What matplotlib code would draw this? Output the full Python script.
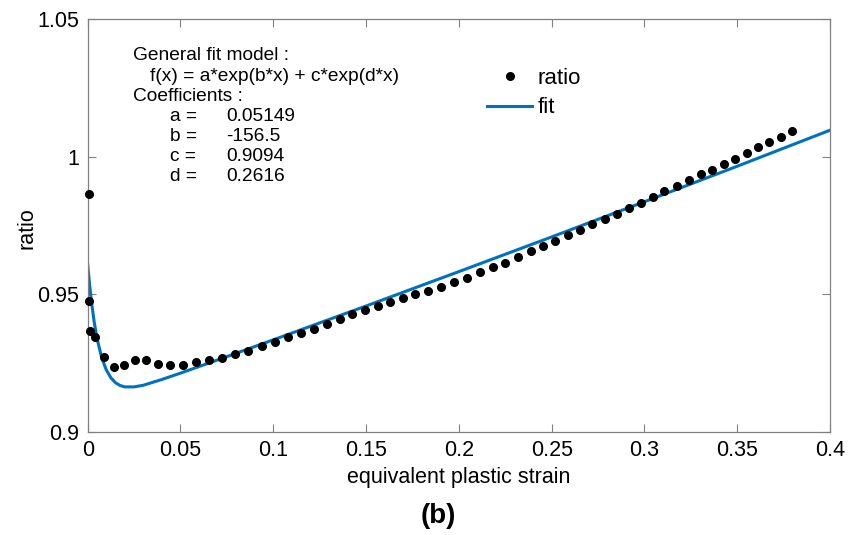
import numpy as np
from matplotlib import pyplot as plt
from matplotlib.ticker import FormatStrFormatter

plt.rcParams['font.family'] = ['Liberation Sans', 'DejaVu Sans']

# measured ratio points
strain = [0.0005, 0.0005, 0.0015, 0.0042, 0.0087, 0.0140, 0.0198, 0.0257, 0.0314, 0.0378,
          0.0445, 0.0513, 0.0585, 0.0655, 0.0726, 0.0796, 0.0866, 0.0938, 0.1008,
          0.1081, 0.1149, 0.1217, 0.1287, 0.1357, 0.1425, 0.1493, 0.1562, 0.1631,
          0.1699, 0.1766, 0.1836, 0.1906, 0.1974, 0.2043, 0.2112, 0.2182, 0.2250,
          0.2318, 0.2388, 0.2452, 0.2520, 0.2588, 0.2653, 0.2719, 0.2787, 0.2854,
          0.2916, 0.2983, 0.3046, 0.3108, 0.3173, 0.3239, 0.3304, 0.3363, 0.3429,
          0.3490, 0.3551, 0.3612, 0.3672, 0.3735, 0.3796]
ratio = [0.9864, 0.9476, 0.9366, 0.9344, 0.9272, 0.9238, 0.9244, 0.9262, 0.9260, 0.9248,
         0.9243, 0.9244, 0.9254, 0.9260, 0.9269, 0.9283, 0.9296, 0.9311, 0.9327,
         0.9344, 0.9359, 0.9376, 0.9394, 0.9412, 0.9428, 0.9444, 0.9458, 0.9472,
         0.9487, 0.9502, 0.9514, 0.9528, 0.9544, 0.9561, 0.9580, 0.9598, 0.9616,
         0.9635, 0.9657, 0.9676, 0.9696, 0.9717, 0.9736, 0.9755, 0.9775, 0.9793,
         0.9814, 0.9834, 0.9853, 0.9875, 0.9895, 0.9916, 0.9936, 0.9954, 0.9974,
         0.9994, 1.0014, 1.0035, 1.0053, 1.0074, 1.0095]

# fitted curve
fit_x = [0, 0.001, 0.002, 0.0035, 0.005, 0.0075, 0.01, 0.0125, 0.015, 0.0175, 0.02,
         0.025, 0.03, 0.04, 0.05, 0.075, 0.1, 0.15, 0.2, 0.25, 0.3, 0.35, 0.4]
fit_y = [0.9609, 0.9537, 0.9475, 0.9400, 0.9341, 0.9271, 0.9226, 0.9197, 0.9179, 0.9169,
         0.9164, 0.9164, 0.9170, 0.9191, 0.9214, 0.9274, 0.9335, 0.9458, 0.9583,
         0.9709, 0.9837, 0.9966, 1.0097]

coef_names = ['a =', 'b =', 'c =', 'd =']
coef_vals = ['0.05149', '-156.5', '0.9094', '0.2616']

fig = plt.figure(figsize=(8.58, 5.35), dpi=100)
ax = fig.add_axes([0.1022, 0.1925, 0.8652, 0.7714])

ax.plot(strain, ratio, 'o', color='black', markersize=5.5, label='ratio',
        clip_on=False, zorder=3)
ax.plot(fit_x, fit_y, '-', color='#0072BD', linewidth=2.2, label='fit')

ax.set_xlim(0, 0.4)
ax.set_ylim(0.9, 1.05)
ax.set_xticks(np.arange(0, 0.401, 0.05))
ax.set_yticks([0.9, 0.95, 1.0, 1.05])
ax.xaxis.set_major_formatter(FormatStrFormatter('%g'))
ax.yaxis.set_major_formatter(FormatStrFormatter('%g'))
ax.tick_params(direction='in', top=True, right=True, length=6, width=0.8,
               color='#808080', labelsize=15.5, pad=6)
for s in ax.spines.values():
    s.set_color('#808080')
    s.set_linewidth(0.9)

fig.text(27 / 858, 1 - 228 / 535, 'ratio', rotation=90, fontsize=15.5,
         ha='center', va='center')
fig.text(459 / 858, 1 - 478 / 535, 'equivalent plastic strain', fontsize=15.5,
         ha='center', va='center')
fig.text(438 / 858, 1 - 516 / 535, '(b)', fontsize=20, fontweight='bold',
         ha='center', va='center')

tk = dict(transform=ax.transAxes, fontsize=13.8, va='center')
ax.text(0.061, 0.9135, 'General fit model :', **tk)
ax.text(0.0839, 0.861, 'f(x) = a*exp(b*x) + c*exp(d*x)', **tk)
ax.text(0.061, 0.8125, 'Coefficients :', **tk)
rows = [0.764, 0.7172, 0.6671, 0.6186]
for yy, n, v in zip(rows, coef_names, coef_vals):
    ax.text(0.1109, yy, n, **tk)
    ax.text(0.1863, yy, v, **tk)

ax.legend(loc='upper left', bbox_to_anchor=(0.5235, 0.91), frameon=False,
          fontsize=16, handlelength=2.0, handletextpad=0.25, labelspacing=0.4,
          borderpad=0)

fig.savefig('out.png', dpi=100)
